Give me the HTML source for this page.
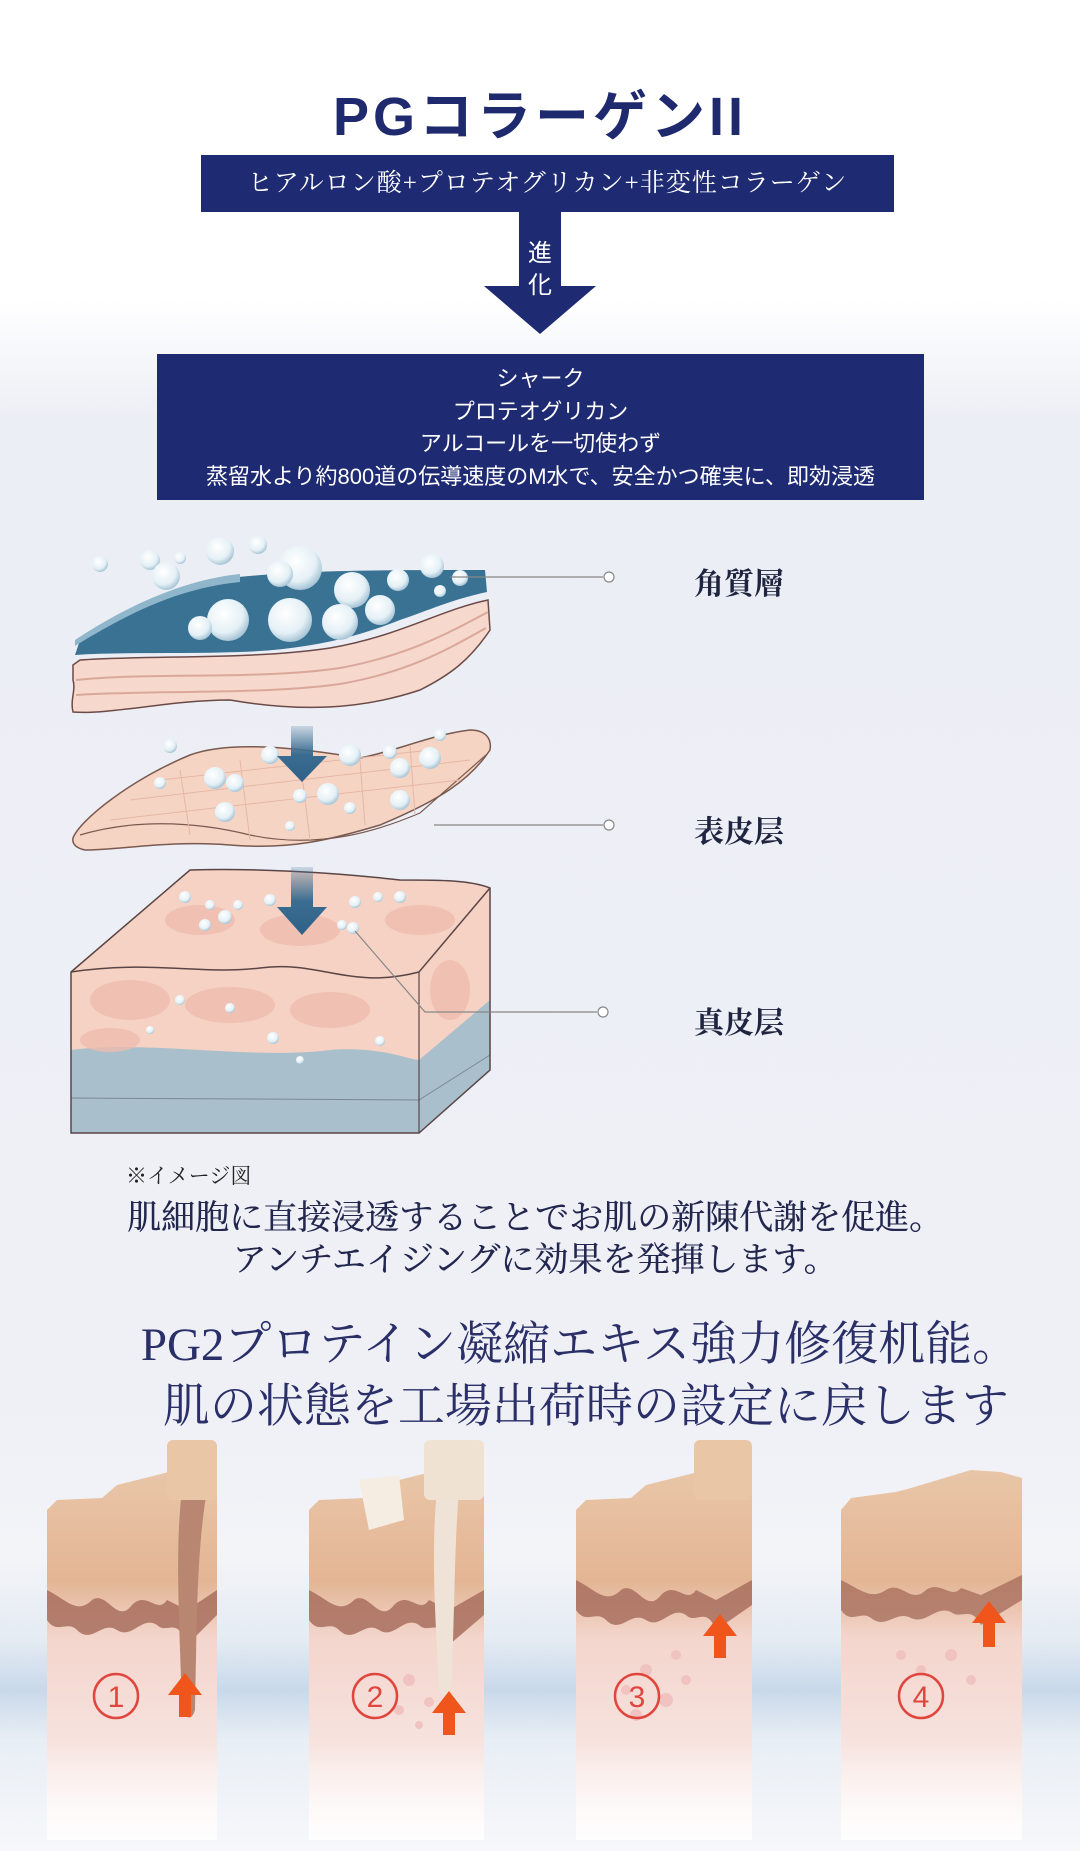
<!DOCTYPE html>
<html><head><meta charset="utf-8">
<style>
html,body{margin:0;padding:0}
body{width:1080px;height:1851px;position:relative;overflow:hidden;font-family:"Liberation Sans","Noto Sans CJK JP",sans-serif;
background:linear-gradient(180deg,#ffffff 0px,#ffffff 300px,#eceef5 420px,#eef0f6 1400px,#f3f4f8 1560px,#e4ebf3 1640px,#c9d9ea 1690px,#e8eef5 1740px,#f7f8fb 1851px);}
.abs{position:absolute}
.title{left:0;width:1080px;top:72px;text-align:center;font-size:54px;font-weight:bold;color:#1f2a6e;letter-spacing:4px}
.box{background:#1e2a72;color:#fff;text-align:center}
.serif{font-family:"Liberation Serif","Noto Serif CJK SC",serif}
.lbl{font-size:30px;color:#1f2440;font-family:"Liberation Serif","Noto Serif CJK SC",serif;font-weight:bold}
</style></head><body>
<div class="abs title">PGコラーゲンII</div>
<div class="abs box serif" style="left:201px;top:155px;width:693px;height:57px;line-height:57px;font-size:25px;letter-spacing:1px">ヒアルロン酸+プロテオグリカン+非変性コラーゲン</div>
<div class="abs" style="left:519px;top:212px;width:42px;height:75px;background:#1e2a72"></div>
<div class="abs" style="left:484px;top:286px;width:0;height:0;border-left:56px solid transparent;border-right:56px solid transparent;border-top:48px solid #1e2a72"></div>
<div class="abs" style="left:519px;top:238px;width:42px;text-align:center;color:#fff;font-size:24px;line-height:32px">進<br>化</div>
<div class="abs box" style="left:157px;top:354px;width:767px;height:146px;font-size:22px;line-height:32.5px;padding-top:9px;box-sizing:border-box">シャーク<br>プロテオグリカン<br>アルコールを一切使わず<br>蒸留水より約800道の伝導速度のM水で、安全かつ確実に、即効浸透</div>

<svg class="abs" style="left:0;top:0" width="1080" height="1851">
<defs>
<radialGradient id="bub" cx="40%" cy="35%" r="65%"><stop offset="0" stop-color="#ffffff"/><stop offset="0.7" stop-color="#e4f0f6"/><stop offset="1" stop-color="#a9c6d6"/></radialGradient>
<linearGradient id="arr" x1="0" y1="0" x2="0" y2="1"><stop offset="0" stop-color="#3e6f93" stop-opacity="0.2"/><stop offset="0.5" stop-color="#3b6d91"/><stop offset="1" stop-color="#2f6189"/></linearGradient>
<linearGradient id="fade" x1="0" y1="0" x2="0" y2="1"><stop offset="0" stop-color="#fff" stop-opacity="0"/><stop offset="1" stop-color="#fff" stop-opacity="0.9"/></linearGradient>
</defs>
<path d="M75,655 L80,640 C130,610 170,585 230,578 C300,570 380,570 485,570 L487,592 C450,600 430,610 400,620 C350,640 300,650 240,652 C180,654 120,652 75,655Z" fill="#3a7293"/>
<path d="M75,646 C130,612 180,588 240,582 L240,574 C180,580 120,610 75,640Z" fill="#8fb6cb"/>
<path d="M73,665 L80,660 C150,655 250,660 330,648 C400,636 440,610 488,600 L490,630 C470,660 450,675 420,690 C360,710 300,712 230,700 C170,700 110,715 73,712 C70,700 76,690 73,680Z" fill="#f6d8cc" stroke="#6b4a48" stroke-width="1.5"/>
<path d="M76,680 C150,672 260,680 340,668 C410,655 450,632 488,612" fill="none" stroke="#d9a89a" stroke-width="2"/>
<path d="M76,695 C150,690 260,695 340,684 C410,672 450,648 486,628" fill="none" stroke="#d9a89a" stroke-width="2"/>
<g fill="url(#bub)">
<circle cx="220" cy="551" r="14"/><circle cx="300" cy="568" r="22"/><circle cx="290" cy="620" r="22"/><circle cx="352" cy="590" r="18"/><circle cx="380" cy="610" r="15"/><circle cx="280" cy="574" r="13"/><circle cx="228" cy="620" r="21"/><circle cx="200" cy="628" r="12"/><circle cx="340" cy="622" r="18"/><circle cx="150" cy="560" r="10"/><circle cx="166" cy="576" r="14"/><circle cx="100" cy="564" r="8"/><circle cx="258" cy="545" r="9"/><circle cx="398" cy="580" r="11"/><circle cx="432" cy="566" r="12"/><circle cx="460" cy="578" r="8"/><circle cx="440" cy="591" r="6"/><circle cx="180" cy="558" r="6"/>
</g>
<path d="M73,838 C80,820 130,780 190,755 C230,740 300,748 360,758 C400,750 430,735 470,730 C485,730 492,738 490,750 C470,780 440,800 380,825 C330,840 290,850 230,845 C170,840 120,850 85,850 C75,848 72,843 73,838Z" fill="#f6d4c4" stroke="#7a5a50" stroke-width="1.5"/>
<path d="M80,835 C130,820 190,820 250,835 C320,850 380,830 420,813 L486,755" fill="none" stroke="#7a5a50" stroke-width="1.2"/>
<g stroke="#e6b6a4" stroke-width="1" fill="none">
<path d="M130,800 L470,760"/><path d="M110,820 L460,780"/><path d="M160,780 L430,750"/><path d="M180,770 L190,835"/><path d="M240,760 L250,840"/><path d="M300,758 L310,840"/><path d="M360,760 L365,825"/><path d="M410,745 L415,815"/>
</g>
<g fill="url(#bub)">
<circle cx="170" cy="746" r="7"/><circle cx="215" cy="778" r="11"/><circle cx="235" cy="783" r="9"/><circle cx="225" cy="812" r="10"/><circle cx="160" cy="783" r="6"/><circle cx="300" cy="796" r="7"/><circle cx="328" cy="794" r="11"/><circle cx="350" cy="808" r="6"/><circle cx="400" cy="768" r="10"/><circle cx="430" cy="758" r="11"/><circle cx="400" cy="800" r="10"/><circle cx="390" cy="752" r="7"/><circle cx="270" cy="755" r="9"/><circle cx="440" cy="735" r="6"/><circle cx="350" cy="755" r="11"/><circle cx="290" cy="826" r="5"/>
</g>
<path d="M71,972 L190,870 C250,868 330,872 400,880 C440,880 470,880 490,888 L490,1070 L419,1133 L71,1133Z" fill="#f5d2c4"/>
<path d="M71,1050 C150,1040 250,1060 330,1050 C380,1046 410,1060 419,1060 L490,1000 L490,1070 L419,1133 L71,1133Z" fill="#a9bfcc"/>
<path d="M71,1098 L419,1100 L490,1055" fill="none" stroke="#7a8995" stroke-width="1"/>
<g fill="#efbcae" opacity="0.8">
<ellipse cx="130" cy="1000" rx="40" ry="20"/><ellipse cx="230" cy="1005" rx="45" ry="18"/><ellipse cx="330" cy="1010" rx="40" ry="18"/><ellipse cx="110" cy="1040" rx="30" ry="12"/><ellipse cx="200" cy="920" rx="35" ry="15"/><ellipse cx="300" cy="930" rx="40" ry="16"/><ellipse cx="420" cy="920" rx="35" ry="15"/><ellipse cx="450" cy="990" rx="20" ry="30"/>
</g>
<path d="M71,972 L190,870 C250,868 330,872 400,880 C440,880 470,880 490,888 L490,1070 L419,1133 L71,1133Z" fill="none" stroke="#5a4546" stroke-width="1.5"/>
<path d="M71,972 C150,960 200,975 260,968 C320,960 350,990 419,972 L490,888" fill="none" stroke="#5a4546" stroke-width="1.5"/>
<path d="M419,972 L419,1133" stroke="#5a4546" stroke-width="1.2"/>
<g fill="url(#bub)">
<circle cx="185" cy="897" r="6"/><circle cx="210" cy="905" r="5"/><circle cx="225" cy="917" r="7"/><circle cx="238" cy="905" r="5"/><circle cx="205" cy="925" r="6"/><circle cx="270" cy="900" r="6"/><circle cx="355" cy="902" r="6"/><circle cx="342" cy="925" r="5"/><circle cx="353" cy="928" r="6"/><circle cx="378" cy="897" r="5"/><circle cx="400" cy="897" r="6"/><circle cx="180" cy="1000" r="5"/><circle cx="230" cy="1008" r="5"/><circle cx="273" cy="1038" r="6"/><circle cx="380" cy="1041" r="5"/><circle cx="150" cy="1030" r="4"/><circle cx="300" cy="1060" r="4"/>
</g>
<path d="M291,726 h22 v30 h14 l-25,26 l-25,-26 h14Z" fill="url(#arr)"/>
<path d="M291,867 h22 v40 h14 l-25,28 l-25,-28 h14Z" fill="url(#arr)"/>
<g stroke="#888" stroke-width="1.2" fill="none">
<path d="M450,577 L603,577"/><circle cx="609" cy="577" r="5" fill="#fff"/>
<path d="M434,825 L603,825"/><circle cx="609" cy="825" r="5" fill="#fff"/>
<path d="M355,931 L425,1012 L597,1012"/><circle cx="603" cy="1012" r="5" fill="#fff"/>
</g>
</svg>
<div class="abs lbl" style="left:694px;top:559px">角質層</div>
<div class="abs lbl" style="left:694px;top:807px">表皮层</div>
<div class="abs lbl" style="left:694px;top:998px">真皮层</div>

<div class="abs serif" style="left:126px;top:1160px;font-size:21px;color:#222">※イメージ図</div>
<div class="abs serif" style="left:-5px;width:1080px;text-align:center;top:1198px;font-size:34px;color:#23274e;line-height:42px;text-shadow:0.4px 0 0 #23274e;">肌細胞に直接浸透することでお肌の新陳代謝を促進。<br>アンチエイジングに効果を発揮します。</div>
<div class="abs serif" style="left:40px;width:1080px;text-align:center;top:1314px;font-size:47px;color:#2a2f68;line-height:62px;">PG2プロテイン凝縮エキス強力修復机能。<br>&nbsp;肌の状態を工場出荷時の設定に戻します</div>

<svg class="abs" style="left:0;top:1440px" width="1080" height="411">
<defs>
<linearGradient id="sk" x1="0" y1="0" x2="0" y2="1">
<stop offset="0" stop-color="#e9c6a8"/><stop offset="0.3" stop-color="#e3b594"/><stop offset="0.45" stop-color="#f3d5cc"/><stop offset="0.75" stop-color="#f7e3df"/><stop offset="1" stop-color="#fbf5f4"/></linearGradient>
</defs>
<g transform="translate(47,0)">
<path d="M0,70 L10,60 L55,58 L70,45 L130,30 L160,38 L170,40 L170,400 L0,400Z" fill="url(#sk)"/>
<path d="M0,150 C20,160 30,175 45,160 C60,150 70,185 85,165 C100,150 110,175 120,160 L140,170 L170,150 L170,175 L140,205 C130,175 120,195 110,185 C95,175 85,200 70,190 C55,180 45,205 30,190 C20,180 10,195 0,180Z" fill="#a86f5e" opacity="0.85"/>
<path d="M135,50 C128,110 132,170 135,270 C140,280 145,280 148,270 C150,170 150,110 160,50Z" fill="#b98672"/>
<rect x="120" y="0" width="50" height="60" fill="#e8c6a6" rx="6"/>
<path d="M0,300 L170,300 L170,400 L0,400Z" fill="url(#fade)"/>
</g>
<g transform="translate(309,0)">
<path d="M0,70 L10,60 L55,58 L70,45 L130,30 L160,38 L175,40 L175,400 L0,400Z" fill="url(#sk)"/>
<path d="M50,40 L90,35 L95,80 L60,90Z" fill="#f6ede2"/>
<path d="M0,150 C20,160 30,175 45,160 C60,150 70,185 85,165 C100,150 110,175 120,160 L140,170 L175,150 L175,175 L140,205 C130,175 120,195 110,185 C95,175 85,200 70,190 C55,180 45,205 30,190 C20,180 10,195 0,180Z" fill="#a86f5e" opacity="0.85"/>
<path d="M128,50 C122,110 126,170 130,250 C134,260 140,260 142,250 C146,170 145,110 150,50Z" fill="#efe3d8"/>
<rect x="115" y="0" width="60" height="60" fill="#f0e2d2" rx="6"/>
<g fill="#f0c3c0"><circle cx="100" cy="240" r="6"/><circle cx="120" cy="262" r="5"/><circle cx="90" cy="270" r="5"/><circle cx="110" cy="285" r="4"/></g>
<path d="M0,300 L175,300 L175,400 L0,400Z" fill="url(#fade)"/>
</g>
<g transform="translate(576,0)">
<path d="M0,70 L10,60 L55,58 L70,45 L130,30 L160,38 L176,40 L176,400 L0,400Z" fill="url(#sk)"/>
<path d="M0,140 C20,150 30,165 45,150 C60,140 70,175 85,155 C100,140 110,165 120,150 L140,160 L176,140 L176,165 L140,190 C130,165 120,185 110,175 C95,165 85,190 70,180 C55,170 45,195 30,180 C20,170 10,185 0,170Z" fill="#a86f5e" opacity="0.85"/>
<rect x="118" y="0" width="58" height="60" fill="#e8c6a6" rx="6"/>
<g fill="#f0c3c0"><circle cx="50" cy="250" r="5"/><circle cx="70" cy="230" r="6"/><circle cx="90" cy="260" r="7"/><circle cx="60" cy="275" r="6"/><circle cx="110" cy="240" r="5"/><circle cx="100" cy="215" r="5"/></g>
<path d="M0,300 L176,300 L176,400 L0,400Z" fill="url(#fade)"/>
</g>
<g transform="translate(841,0)">
<path d="M0,70 L10,58 L55,52 L70,48 L130,30 L160,32 L181,38 L181,400 L0,400Z" fill="url(#sk)"/>
<path d="M0,140 C20,150 30,160 45,150 C60,140 70,165 85,150 C100,140 110,160 120,148 L140,155 L181,135 L181,160 L140,185 C130,165 120,180 110,172 C95,165 85,185 70,178 C55,170 45,190 30,178 C20,170 10,185 0,170Z" fill="#a86f5e" opacity="0.8"/>
<g fill="#f0c3c0"><circle cx="60" cy="215" r="5"/><circle cx="80" cy="230" r="5"/><circle cx="110" cy="215" r="6"/><circle cx="130" cy="240" r="5"/></g>
<path d="M0,300 L181,300 L181,400 L0,400Z" fill="url(#fade)"/>
</g>
<g fill="none" stroke="#e0453e" stroke-width="2.5">
<circle cx="116" cy="256" r="22"/><circle cx="375" cy="256" r="22"/><circle cx="637" cy="256" r="22"/><circle cx="921" cy="256" r="22"/>
</g>
<g fill="#e0453e" font-family="Liberation Sans,sans-serif" font-size="30" text-anchor="middle">
<text x="116" y="267">1</text><text x="375" y="267">2</text><text x="637" y="267">3</text><text x="921" y="267">4</text>
</g>
<g fill="#f0561c">
<path d="M179,277 v-22 h-11 l17,-22 l17,22 h-11 v22Z"/>
<path d="M443,295 v-22 h-11 l17,-22 l17,22 h-11 v22Z"/>
<path d="M714,218 v-22 h-11 l17,-22 l17,22 h-11 v22Z"/>
<path d="M983,207 v-24 h-11 l17,-22 l17,22 h-11 v24Z"/>
</g>
</svg>
</body></html>
